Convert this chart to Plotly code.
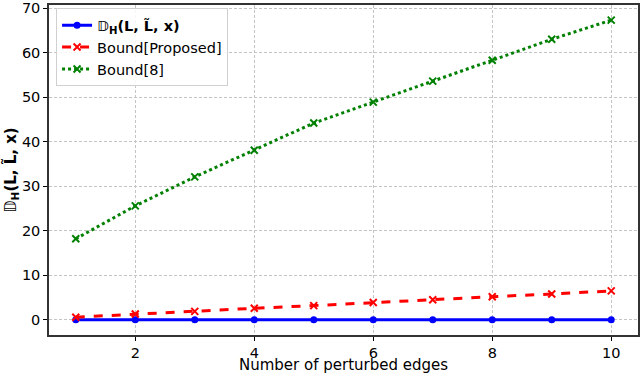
import plotly.graph_objects as go

# 数据
edges = [1, 2, 3, 4, 5, 6, 7, 8, 9, 10]
d_h = [0, 0, 0, 0, 0, 0, 0, 0, 0, 0]
bound_proposed = [0.6, 1.3, 1.9, 2.6, 3.2, 3.9, 4.5, 5.2, 5.8, 6.5]
bound_8 = [18.2, 25.6, 32.1, 38.1, 44.2, 48.9, 53.6, 58.3, 63.0, 67.3]

dh_label = "<i>𝔻</i><sub><b>H</b></sub><b>(L, L̃, x)</b>"

fig = go.Figure()
fig.add_trace(go.Scatter(
    x=edges, y=d_h, mode='lines+markers', name=dh_label,
    line=dict(color='blue', width=3),
    marker=dict(symbol='circle', size=7, color='blue'),
))
fig.add_trace(go.Scatter(
    x=edges, y=bound_proposed, mode='lines+markers', name='Bound[Proposed]',
    line=dict(color='red', width=3, dash='dash'),
    marker=dict(symbol='x-thin', size=7, color='red', line=dict(width=2, color='red')),
))
fig.add_trace(go.Scatter(
    x=edges, y=bound_8, mode='lines+markers', name='Bound[8]',
    line=dict(color='green', width=3, dash='dot'),
    marker=dict(symbol='x-thin', size=7, color='green', line=dict(width=2, color='green')),
))

axis_common = dict(
    showline=True, linecolor='#333333', linewidth=1.5, mirror=True,
    ticks='outside', ticklen=4, tickcolor='black',
    showgrid=True, gridcolor='#c4c4c4', griddash='3px,2px', gridwidth=1,
    zeroline=False, tickfont=dict(size=14.5, color='black'),
)

fig.update_layout(
    width=640, height=373,
    margin=dict(l=49, r=2, t=5, b=38),
    paper_bgcolor='white', plot_bgcolor='white',
    font=dict(family='DejaVu Sans', color='black'),
    showlegend=True,
    legend=dict(
        x=0.012, y=0.99, xanchor='left', yanchor='top',
        bgcolor='rgba(255,255,255,0.85)', bordercolor='#d0d0d0', borderwidth=1,
        font=dict(size=14.5), tracegroupgap=0,
    ),
    xaxis=dict(range=[0.55, 10.45], tickvals=[2, 4, 6, 8, 10],
               automargin=False, **axis_common),
    yaxis=dict(range=[-3.4, 70.7], tickvals=[0, 10, 20, 30, 40, 50, 60, 70],
               automargin=False,
               title=dict(text=dh_label, font=dict(size=15), standoff=2),
               **axis_common),
)

# x 轴标题用注释放在刻度下方
fig.add_annotation(
    text='Number of perturbed edges', xref='paper', yref='paper',
    x=0.5, y=0, xanchor='center', yanchor='top', yshift=-19,
    showarrow=False, font=dict(size=15),
)

# 去掉页面默认边距
fig.write_html("out.html", config={'displayModeBar': False},
               post_script="document.body.style.margin='0';")
